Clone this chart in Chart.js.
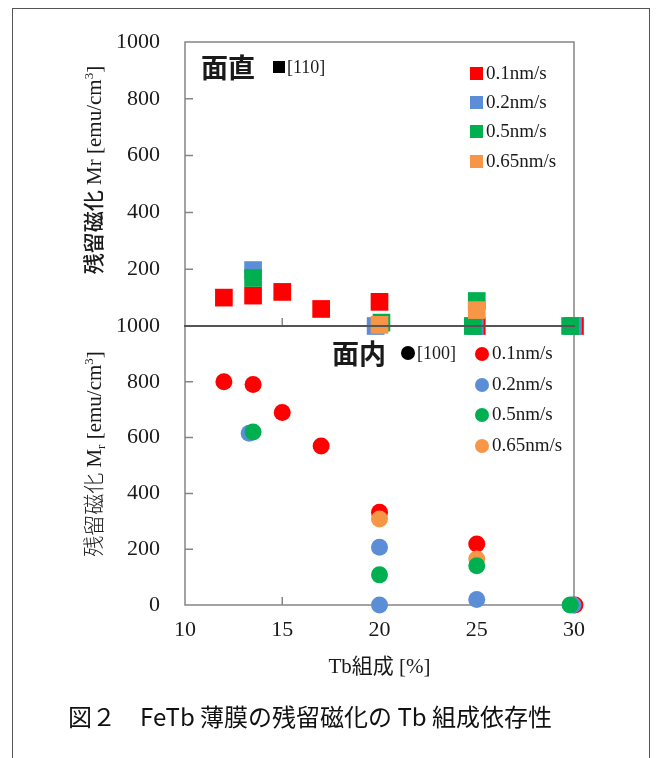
<!DOCTYPE html>
<html>
<head>
<meta charset="utf-8">
<script src="https://cdn.jsdelivr.net/npm/chart.js@4/dist/chart.umd.min.js"></script>
<style>
  body { margin: 0; width: 661px; height: 758px; overflow: hidden; background: #fff; position: relative; }
  #marco { position: absolute; left: 12px; top: 8px; width: 638px; height: 800px; border: 1px solid #555; box-sizing: border-box; }
  #grafica { position: absolute; left: 0; top: 0; }
  .abs { position: absolute; white-space: nowrap; color: #1a1a1a; }
  .serif { font-family: "Liberation Serif", "DejaVu Serif", serif; }
  .gothic { font-family: "Noto Sans CJK JP", "Noto Sans", sans-serif; }
  .ytitulo { position: absolute; transform: translate(-50%, -50%) rotate(-90deg); white-space: nowrap; font-size: 21px; color: #1a1a1a; }
  .ytitulo sup { font-size: 13px; vertical-align: 8px; line-height: 0; }
  .ytitulo sub { font-size: 13px; vertical-align: -4px; line-height: 0; }
  .leyenda { position: absolute; font-family: "Liberation Serif", serif; font-size: 19px; color: #1a1a1a; }
  .fila { position: absolute; left: 0; white-space: nowrap; height: 22px; line-height: 22px; transform: translateY(-50%); }
  .marca { display: inline-block; vertical-align: middle; margin-right: 3px; position: relative; top: -1px; }
  #titulo { position: absolute; left: 68px; top: 698px; font-family: "Noto Sans CJK JP", sans-serif; font-size: 24px; color: #111; white-space: nowrap; }
</style>
</head>
<body>
<div id="marco"></div>
<canvas id="grafica" width="661" height="758"></canvas>

<!-- titulos de los ejes Y -->
<div class="ytitulo" style="left:92px; top:170px;"><span class="gothic" style="font-weight:500">残留磁化</span><span class="serif"> Mr [emu/cm<sup>3</sup>]</span></div>
<div class="ytitulo" style="left:92px; top:454px;"><span class="gothic" style="font-weight:300">残留磁化</span><span class="serif"> M<sub>r</sub> [emu/cm<sup>3</sup>]</span></div>

<!-- anotaciones de cada panel -->
<div class="abs gothic" style="left:201px; top:50px; font-size:27px; font-weight:700; line-height:34px;">面直</div>
<div class="abs" style="left:273px; top:61px; width:12px; height:12px; background:#000;"></div>
<div class="abs serif" style="left:287px; top:56px; font-size:18px; line-height:22px;">[110]</div>

<div class="abs gothic" style="left:332px; top:336px; font-size:27px; font-weight:700; line-height:34px;">面内</div>
<div class="abs" style="left:401px; top:346px; width:14px; height:14px; border-radius:50%; background:#000;"></div>
<div class="abs serif" style="left:417px; top:342px; font-size:18px; line-height:22px;">[100]</div>

<div id="leyendaTop" class="leyenda" style="left:470px; top:0;"></div>
<div id="leyendaBot" class="leyenda" style="left:475px; top:0;"></div>

<div id="titulo">図２　FeTb 薄膜の残留磁化の Tb 組成依存性</div>

<script>
// Series (velocidad de deposición) y colores
const velocidades = ["0.1nm/s", "0.2nm/s", "0.5nm/s", "0.65nm/s"];
const colores = ["#FF0000", "#5B8ED6", "#00B050", "#F79646"];

// Panel superior: 面直 [110] (cuadrados)
const tbTop01 = [12, 13.5, 15, 17, 20, 25, 30.05];
const mrTop01 = [100, 107, 120, 60, 85, 0, 0];
const tbTop02 = [13.5, 19.8, 24.9, 29.95];
const mrTop02 = [197, 0, 0, 0];
const tbTop05 = [13.5, 20.1, 25, 24.8, 29.8];
const mrTop05 = [169, 12, 88, 0, 0];
const tbTop065 = [20, 25];
const mrTop065 = [4, 56];

// Panel inferior: 面内 [100] (circulos)
const tbBot01 = [12, 13.5, 15, 17, 20, 25, 30.05];
const mrBot01 = [800, 790, 690, 570, 332, 219, 0];
const tbBot02 = [13.3, 20, 20, 25, 29.95];
const mrBot02 = [616, 207, 0, 20, 0];
const tbBot05 = [13.5, 20, 25, 29.8];
const mrBot05 = [620, 108, 141, 0];
const tbBot065 = [20, 25];
const mrBot065 = [308, 165];

// Ticks
const xTicks = [10, 15, 20, 25, 30];
const yTicks = [0, 200, 400, 600, 800, 1000];

function puntos(xs, ys) {
  return xs.map((x, i) => ({ x: x, y: ys[i] }));
}

function serie(idx, xs, ys, eje, estilo, orden) {
  return {
    label: velocidades[idx] + (eje === "yTop" ? " 面直" : " 面内"),
    data: puntos(xs, ys),
    yAxisID: eje,
    backgroundColor: colores[idx],
    borderColor: colores[idx],
    borderWidth: 0,
    pointStyle: estilo,
    pointRadius: estilo === "rect" ? 12.5 : 8.5,
    pointHoverRadius: estilo === "rect" ? 12.5 : 8.5,
    showLine: false,
    clip: false,
    order: orden,
  };
}

const datasets = [
  serie(0, tbTop01, mrTop01, "yTop", "rect", 4),
  serie(1, tbTop02, mrTop02, "yTop", "rect", 3),
  serie(2, tbTop05, mrTop05, "yTop", "rect", 2),
  serie(3, tbTop065, mrTop065, "yTop", "rect", 1),
  serie(0, tbBot01, mrBot01, "yBot", "circle", 4),
  serie(1, tbBot02, mrBot02, "yBot", "circle", 3),
  serie(3, tbBot065, mrBot065, "yBot", "circle", 2),
  serie(2, tbBot05, mrBot05, "yBot", "circle", 1),
];

// Leyendas en HTML
function crearLeyenda(id, filas, forma) {
  const div = document.getElementById(id);
  filas.forEach((y, i) => {
    const fila = document.createElement("div");
    fila.className = "fila";
    fila.style.top = y + "px";
    const m = document.createElement("span");
    m.className = "marca";
    if (forma === "rect") {
      m.style.width = "13px"; m.style.height = "13px";
    } else {
      m.style.width = "14px"; m.style.height = "14px"; m.style.borderRadius = "50%";
    }
    m.style.background = colores[i];
    fila.appendChild(m);
    fila.appendChild(document.createTextNode(velocidades[i]));
    div.appendChild(fila);
  });
}
crearLeyenda("leyendaTop", [73, 102, 131, 161], "rect");
crearLeyenda("leyendaBot", [353, 384, 414, 445], "circle");

// Marco del area, linea divisoria y marcas de ticks hacia adentro
const marcoPlugin = {
  id: "marco",
  beforeDatasetsDraw(chart) {
    const { ctx, chartArea } = chart;
    const x = chart.scales.x;
    const yTop = chart.scales.yTop;
    const yBot = chart.scales.yBot;
    ctx.save();
    ctx.strokeStyle = "#858585";
    ctx.lineWidth = 1.5;
    ctx.strokeRect(chartArea.left, chartArea.top, chartArea.right - chartArea.left, chartArea.bottom - chartArea.top);
    ctx.beginPath();
    [yTop, yBot].forEach((esc) => {
      yTicks.forEach((v) => {
        if (v === 0 || v === 1000) return;
        const py = esc.getPixelForValue(v);
        ctx.moveTo(chartArea.left, py);
        ctx.lineTo(chartArea.left + 8, py);
      });
    });
    xTicks.forEach((v) => {
      if (v === 10 || v === 30) return;
      const px = x.getPixelForValue(v);
      [yTop.getPixelForValue(0), yBot.getPixelForValue(0)].forEach((py) => {
        ctx.moveTo(px, py);
        ctx.lineTo(px, py - 8);
      });
    });
    ctx.stroke();
    ctx.restore();
  },
  afterDatasetsDraw(chart) {
    const { ctx, chartArea } = chart;
    const py = chart.scales.yTop.getPixelForValue(0);
    ctx.save();
    ctx.strokeStyle = "#555555";
    ctx.lineWidth = 2;
    ctx.beginPath();
    ctx.moveTo(chartArea.left - 1, py);
    ctx.lineTo(chartArea.right + 1, py);
    ctx.stroke();
    ctx.restore();
  },
};

const fuenteTicks = { family: "'Liberation Serif', serif", size: 22 };

const ctx = document.getElementById("grafica");
const grafica = new Chart(ctx, {
  type: "scatter",
  data: { datasets: datasets },
  options: {
    responsive: false,
    animation: false,
    events: [],
    layout: { padding: { left: 0, right: 87, top: 42, bottom: 78 } },
    plugins: { legend: { display: false }, tooltip: { enabled: false } },
    scales: {
      x: {
        type: "linear",
        min: 10,
        max: 30,
        afterBuildTicks: (s) => { s.ticks = xTicks.map((v) => ({ value: v })); },
        ticks: { color: "#1a1a1a", font: fuenteTicks, padding: 12, maxRotation: 0, callback: (v) => String(v) },
        grid: { display: false, drawTicks: false, tickLength: 0 },
        border: { display: false },
        title: {
          display: true,
          text: "Tb組成 [%]",
          color: "#1a1a1a",
          font: { family: "'Liberation Serif', 'Noto Sans CJK JP', serif", size: 21 },
          padding: { top: 2, bottom: 0 },
        },
        afterFit: (s) => { s.height = 75; },
      },
      yBot: {
        type: "linear",
        position: "left",
        stack: "paneles",
        stackWeight: 279,
        min: 0,
        max: 1000,
        afterBuildTicks: (s) => { s.ticks = yTicks.map((v) => ({ value: v })); },
        ticks: { color: "#1a1a1a", font: fuenteTicks, padding: 25, callback: (v) => String(v) },
        grid: { display: false, drawTicks: false, tickLength: 0 },
        border: { display: false },
        afterFit: (s) => { s.width = 185; },
      },
      yTop: {
        type: "linear",
        position: "left",
        stack: "paneles",
        stackWeight: 284,
        min: 0,
        max: 1000,
        afterBuildTicks: (s) => { s.ticks = yTicks.map((v) => ({ value: v })); },
        ticks: { color: "#1a1a1a", font: fuenteTicks, padding: 25, callback: (v) => (v === 0 ? "" : String(v)) },
        grid: { display: false, drawTicks: false, tickLength: 0 },
        border: { display: false },
        afterFit: (s) => { s.width = 185; },
      },
    },
  },
  plugins: [marcoPlugin],
});
</script>
</body>
</html>
